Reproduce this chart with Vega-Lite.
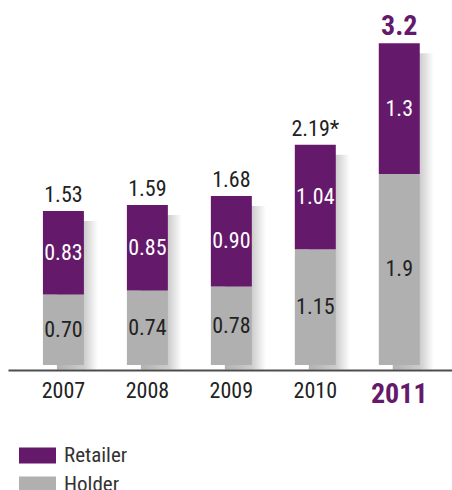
{
  "$schema": "https://vega.github.io/schema/vega-lite/v6.json",
  "width": 444,
  "height": 360,
  "autosize": "none",
  "padding": {"left": 8, "top": 10, "right": 0, "bottom": 120},
  "background": "white",
  "config": {"view": {"stroke": null}, "font": "'Liberation Sans Narrow', 'Roboto Condensed', 'DejaVu Sans Condensed', Roboto, sans-serif"},
  "datasets": {
    "parts": [
      {"year": "2007", "type": "Holder", "ord": 0, "value": 0.70, "label": "0.70"},
      {"year": "2007", "type": "Retailer", "ord": 1, "value": 0.83, "label": "0.83"},
      {"year": "2008", "type": "Holder", "ord": 0, "value": 0.74, "label": "0.74"},
      {"year": "2008", "type": "Retailer", "ord": 1, "value": 0.85, "label": "0.85"},
      {"year": "2009", "type": "Holder", "ord": 0, "value": 0.78, "label": "0.78"},
      {"year": "2009", "type": "Retailer", "ord": 1, "value": 0.90, "label": "0.90"},
      {"year": "2010", "type": "Holder", "ord": 0, "value": 1.15, "label": "1.15"},
      {"year": "2010", "type": "Retailer", "ord": 1, "value": 1.04, "label": "1.04"},
      {"year": "2011", "type": "Holder", "ord": 0, "value": 1.9, "label": "1.9"},
      {"year": "2011", "type": "Retailer", "ord": 1, "value": 1.3, "label": "1.3"}
    ],
    "totals": [
      {"year": "2007", "total": 1.53, "label": "1.53"},
      {"year": "2008", "total": 1.59, "label": "1.59"},
      {"year": "2009", "total": 1.68, "label": "1.68"},
      {"year": "2010", "total": 2.19, "label": "2.19*"},
      {"year": "2011", "total": 3.2, "label": "3.2"}
    ]
  },
  "encoding": {
    "x": {
      "field": "year",
      "type": "nominal",
      "scale": {"paddingInner": 0.512, "paddingOuter": 0.4, "align": 0.52},
      "axis": {
        "title": null,
        "labelAngle": 0,
        "ticks": false,
        "domainColor": "#4d4d4d",
        "domainWidth": 2,
        "labelPadding": 10,
        "labelFontSize": {"condition": {"test": "datum.value == '2011'", "value": 28}, "value": 22},
        "labelFontWeight": {"condition": {"test": "datum.value == '2011'", "value": "bold"}, "value": "normal"},
        "labelColor": {"condition": {"test": "datum.value == '2011'", "value": "#65196a"}, "value": "#222222"}
      }
    }
  },
  "layer": [
    {
      "data": {"name": "totals"},
      "mark": {"type": "bar", "xOffset": 14, "yOffset": 10},
      "encoding": {
        "y": {"field": "total", "type": "quantitative", "scale": {"domain": [-0.05, 3.53], "nice": false, "zero": false}, "axis": null},
        "y2": {"datum": -0.045},
        "color": {"value": {"gradient": "linear", "x1": 0, "x2": 1, "y1": 0, "y2": 0,
          "stops": [{"offset": 0, "color": "rgba(0,0,0,0.3)"}, {"offset": 0.66, "color": "rgba(0,0,0,0.2)"}, {"offset": 1, "color": "rgba(0,0,0,0)"}]}}
      }
    },
    {
      "data": {"name": "parts"},
      "transform": [{"stack": "value", "groupby": ["year"], "sort": [{"field": "ord"}], "as": ["s0", "s1"]}],
      "mark": {"type": "bar"},
      "encoding": {
        "y": {"field": "s0", "type": "quantitative", "scale": {"domain": [-0.05, 3.53], "nice": false, "zero": false}, "axis": null},
        "y2": {"field": "s1"},
        "color": {
          "field": "type",
          "type": "nominal",
          "scale": {"domain": ["Retailer", "Holder"], "range": ["#65196a", "#b0b0b0"]},
          "legend": {
            "title": null,
            "orient": "none",
            "legendX": 11,
            "legendY": 427,
            "direction": "vertical",
            "symbolType": "M-1,-0.43H1V0.43H-1Z",
            "symbolSize": 1369,
            "symbolStrokeWidth": 0,
            "symbolOpacity": 1,
            "labelFontSize": 21,
            "labelColor": "#333333",
            "labelOffset": 8,
            "rowPadding": -2
          }
        }
      }
    },
    {
      "data": {"name": "parts"},
      "transform": [
        {"stack": "value", "groupby": ["year"], "sort": [{"field": "ord"}], "as": ["s0", "s1"]},
        {"fold": ["s0", "s1"], "as": ["k", "v"]},
        {"aggregate": [{"op": "mean", "field": "v", "as": "mid"}], "groupby": ["year", "type", "label"]}
      ],
      "mark": {"type": "text", "fontSize": 22, "baseline": "middle", "align": "center"},
      "encoding": {
        "y": {"field": "mid", "type": "quantitative", "scale": {"domain": [-0.05, 3.53], "nice": false, "zero": false}},
        "text": {"field": "label"},
        "color": {"condition": {"test": "datum.type == 'Retailer'", "value": "white"}, "value": "#222222"}
      }
    },
    {
      "data": {"name": "totals"},
      "transform": [{"filter": "datum.year != '2011'"}],
      "mark": {"type": "text", "fontSize": 22, "baseline": "alphabetic", "dy": -9, "color": "#222222"},
      "encoding": {
        "y": {"field": "total", "type": "quantitative", "scale": {"domain": [-0.05, 3.53], "nice": false, "zero": false}},
        "text": {"field": "label"}
      }
    },
    {
      "data": {"name": "totals"},
      "transform": [{"filter": "datum.year == '2011'"}],
      "mark": {"type": "text", "fontSize": 28, "fontWeight": "bold", "baseline": "alphabetic", "dy": -8, "color": "#65196a"},
      "encoding": {
        "y": {"field": "total", "type": "quantitative", "scale": {"domain": [-0.05, 3.53], "nice": false, "zero": false}},
        "text": {"field": "label"}
      }
    }
  ]
}
